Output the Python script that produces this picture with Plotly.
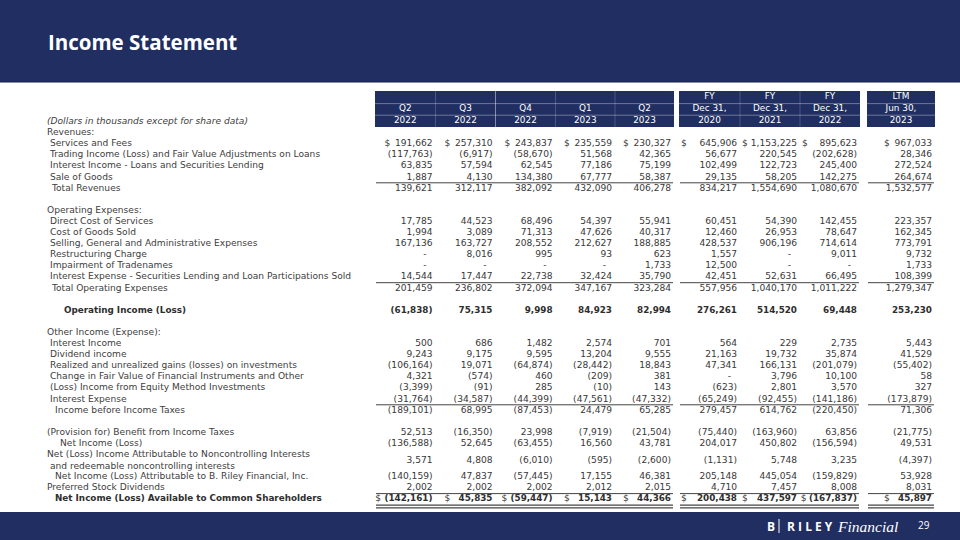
import plotly.graph_objects as go

# ---------------- data ----------------
ROW_LABELS = [
    "(Dollars in thousands except for share data)",
    "Revenues:",
    "Services and Fees",
    "Trading Income (Loss) and Fair Value Adjustments on Loans",
    "Interest Income - Loans and Securities Lending",
    "Sale of Goods",
    "Total Revenues",
    "",
    "Operating Expenses:",
    "Direct Cost of Services",
    "Cost of Goods Sold",
    "Selling, General and Administrative Expenses",
    "Restructuring Charge",
    "Impairment of Tradenames",
    "Interest Expense - Securities Lending and Loan Participations Sold",
    "Total Operating Expenses",
    "",
    "Operating Income (Loss)",
    "",
    "Other Income (Expense):",
    "Interest Income",
    "Dividend income",
    "Realized and unrealized gains (losses) on investments",
    "Change in Fair Value of Financial Instruments and Other",
    "(Loss) Income from Equity Method Investments",
    "Interest Expense",
    "Income before Income Taxes",
    "",
    "(Provision for) Benefit from Income Taxes",
    "Net Income (Loss)",
    "Net (Loss) Income Attributable to Noncontrolling Interests<br> and redeemable noncontrolling interests",
    "Net Income (Loss) Attributable to B. Riley Financial, Inc.",
    "Preferred Stock Dividends",
    "Net Income (Loss) Available to Common Shareholders",
]

HEADER_TOP = ["", "", "", "", "", "FY", "FY", "FY", "LTM"]
HEADER_MID = ["Q2", "Q3", "Q4", "Q1", "Q2", "Dec 31,", "Dec 31,", "Dec 31,", "Jun 30,"]
HEADER_YEAR = ["2022", "2022", "2022", "2023", "2023", "2020", "2021", "2022", "2023"]

# values for the rows that carry numbers (0 shown as "-")
Q2_2022 = [191662, -117763, 63835, 1887, 139621, 17785, 1994, 167136, 0, 0, 14544, 201459,
           -61838, 500, 9243, -106164, 4321, -3399, -31764, -189101, 52513, -136588, 3571,
           -140159, 2002, -142161]
Q3_2022 = [257310, -6917, 57594, 4130, 312117, 44523, 3089, 163727, 8016, 0, 17447, 236802,
           75315, 686, 9175, 19071, -574, -91, -34587, 68995, -16350, 52645, 4808,
           47837, 2002, 45835]
Q4_2022 = [243837, -58670, 62545, 134380, 382092, 68496, 71313, 208552, 995, 0, 22738, 372094,
           9998, 1482, 9595, -64874, 460, 285, -44399, -87453, 23998, -63455, -6010,
           -57445, 2002, -59447]
Q1_2023 = [235559, 51568, 77186, 67777, 432090, 54397, 47626, 212627, 93, 0, 32424, 347167,
           84923, 2574, 13204, -28442, -209, -10, -47561, 24479, -7919, 16560, -595,
           17155, 2012, 15143]
Q2_2023 = [230327, 42365, 75199, 58387, 406278, 55941, 40317, 188885, 623, 1733, 35790, 323284,
           82994, 701, 9555, 18843, 381, 143, -47332, 65285, -21504, 43781, -2600,
           46381, 2015, 44366]
FY_2020 = [645906, 56677, 102499, 29135, 834217, 60451, 12460, 428537, 1557, 12500, 42451, 557956,
           276261, 564, 21163, 47341, 0, -623, -65249, 279457, -75440, 204017, -1131,
           205148, 4710, 200438]
FY_2021 = [1153225, 220545, 122723, 58205, 1554690, 54390, 26953, 906196, 0, 0, 52631, 1040170,
           514520, 229, 19732, 166131, 3796, 2801, -92455, 614762, -163960, 450802, 5748,
           445054, 7457, 437597]
FY_2022 = [895623, -202628, 245400, 142275, 1080670, 142455, 78647, 714614, 9011, 0, 66495, 1011222,
           69448, 2735, 35874, -201079, 10100, 3570, -141186, -220450, 63856, -156594, 3235,
           -159829, 8008, -167837]
LTM_2023 = [967033, 28346, 272524, 264674, 1532577, 223357, 162345, 773791, 9732, 1733, 108399, 1279347,
            253230, 5443, 41529, -55402, 58, 327, -173879, 71306, -21775, 49531, -4397,
            53928, 8031, 45897]

COLUMNS = [Q2_2022, Q3_2022, Q4_2022, Q1_2023, Q2_2023, FY_2020, FY_2021, FY_2022, LTM_2023]

# ---------------- styles / layout ----------------
NAVY = "#202E62"
TXT = "#383838"
LABEL_COL = "#404040"
FONT = "DejaVu Sans"
TITLE_FONT = "Open Sans"
FS = 9.1
BFS = 8.8
HFS = 8.9

ROW_LEVEL = [0, 0, 1, 1, 1, 1, 2, 0, 0, 1, 1, 1, 1, 1, 1, 2, 0, 5, 0, 0, 1, 1, 1, 1, 1, 1, 3,
             0, 0, 4, 0, 3, 0, 3]
LEVEL_X = {0: 47, 1: 50, 2: 52, 3: 55, 4: 60, 5: 64}
STRONG_ROWS = {17, 33}
UNDERLINE_AFTER = {5, 14, 25, 32}
DOUBLE_AFTER = {33}
DOLLAR_ROWS = {2, 33}

BLOCKS = [  # column edges per header block
    [375, 435.5, 495.5, 555.5, 615, 674],
    [679, 740, 800, 860],
    [867, 935],
]
Y0 = 121.8
PITCH = 11.1
HP = 11.6

col_left, col_right, col_block = [], [], []
for b, edges in enumerate(BLOCKS):
    for k in range(len(edges) - 1):
        col_left.append(edges[k])
        col_right.append(edges[k + 1])
        col_block.append(b)

# row y positions (a two-line row takes two slots)
row_y = []
slot = 0
for lab in ROW_LABELS:
    h = 2 if "<br>" in lab else 1
    row_y.append(Y0 + PITCH * (slot + (h - 1) / 2))
    slot += h

value_rows = [i for i, lab in enumerate(ROW_LABELS)
              if lab and not lab.endswith(":") and not lab.startswith("(Dollars")]


def fmt(v):
    if v == 0:
        return "-"
    s = f"{abs(v):,}"
    return f"({s})" if v < 0 else s


def est_width(s, bold):
    # rough DejaVu Sans advance widths (em)
    w = 0.0
    for ch in s:
        if ch.isdigit():
            w += 0.696 if bold else 0.636
        elif ch == ",":
            w += 0.38 if bold else 0.318
        elif ch in "()":
            w += 0.457 if bold else 0.39
        else:
            w += 0.4
    return w * (BFS if bold else FS)


fig = go.Figure()
shapes = []

# banners
shapes.append(dict(type="rect", x0=0, x1=960, y0=0, y1=82, fillcolor=NAVY, line_width=0, layer="below"))
shapes.append(dict(type="line", x0=0, x1=960, y0=82, y1=82, line=dict(color="#16214a", width=1)))
shapes.append(dict(type="rect", x0=0, x1=960, y0=512, y1=540, fillcolor=NAVY, line_width=0, layer="below"))

# header blocks
htop = Y0 - 2 * HP - 7.5
hbot = Y0 + 5.2
for b, edges in enumerate(BLOCKS):
    shapes.append(dict(type="rect", x0=edges[0], x1=edges[-1], y0=htop, y1=hbot,
                       fillcolor=NAVY, line_width=0, layer="below"))
    for yy in (Y0 - 1.5 * HP - 0.8, Y0 - 0.5 * HP - 0.8):
        shapes.append(dict(type="line", x0=edges[0], x1=edges[-1], y0=yy, y1=yy,
                           line=dict(color="rgba(255,255,255,0.35)", width=1)))
    for k, xe in enumerate(edges[1:-1]):
        alpha = 0.45 if (b == 0 and k == 1) else 0.2
        shapes.append(dict(type="line", x0=xe, x1=xe, y0=htop, y1=hbot,
                           line=dict(color=f"rgba(255,255,255,{alpha})", width=1)))

# underlines
for r in UNDERLINE_AFTER | DOUBLE_AFTER:
    ys = [row_y[r] + 5.5]
    if r in DOUBLE_AFTER:
        ys = [row_y[r] + 6.0, row_y[r] + 8.6]
    for edges in BLOCKS:
        for yy in ys:
            shapes.append(dict(type="line", x0=edges[0] + 1, x1=edges[-1] - 1, y0=yy, y1=yy,
                               line=dict(color="#444", width=1.2 if r in DOUBLE_AFTER else 1)))

# header texts
hx = [(l + r) / 2 for l, r in zip(col_left, col_right)]
for labels, yy in ((HEADER_TOP, Y0 - 2 * HP - 1.5), (HEADER_MID, Y0 - HP - 1.2), (HEADER_YEAR, Y0 - 1)):
    fig.add_trace(go.Scatter(x=hx, y=[yy] * len(hx), text=labels, mode="text",
                             textposition="middle center",
                             textfont=dict(family=FONT, size=HFS, color="white"),
                             hoverinfo="skip", showlegend=False))

# row labels (regular and strong in separate traces)
for strong in (False, True):
    lab_x, lab_y, lab_t = [], [], []
    for i, lab in enumerate(ROW_LABELS):
        if not lab or (i in STRONG_ROWS) != strong:
            continue
        t = lab
        if lab.startswith("(Dollars"):
            t = f"<i>{lab}</i>"
        elif strong:
            t = f"<b>{lab}</b>"
        lab_x.append(LEVEL_X[ROW_LEVEL[i]])
        lab_y.append(row_y[i])
        lab_t.append(t)
    fig.add_trace(go.Scatter(x=lab_x, y=lab_y, text=lab_t, mode="text", textposition="middle right",
                             textfont=dict(family=FONT, size=BFS if strong else FS,
                                           color="#2e2e2e" if strong else LABEL_COL),
                             hoverinfo="skip", showlegend=False))

# values
for c, vals in enumerate(COLUMNS):
    groups = {False: ([], [], []), True: ([], [], [])}
    dx, dy = [], []
    for v, r in zip(vals, value_rows):
        s = fmt(v)
        bold = r in STRONG_ROWS
        right = col_right[c] - (9 if v == 0 else 3)
        gx, gy, gt = groups[bold]
        gx.append(right)
        gy.append(row_y[r])
        gt.append(f"<b>{s}</b>" if bold else s)
        if r in DOLLAR_ROWS:
            w = est_width(s, bold)
            b = col_block[c]
            if b == 1:
                dx.append(min(col_left[c] + 2, right - w - 8))
            else:
                dx.append(min(right - 48, right - w - 9))
            dy.append(row_y[r])
    for bold, (gx, gy, gt) in groups.items():
        fig.add_trace(go.Scatter(x=gx, y=gy, text=gt, mode="text", textposition="middle left",
                                 textfont=dict(family=FONT, size=BFS if bold else FS,
                                               color="#2e2e2e" if bold else TXT),
                                 hoverinfo="skip", showlegend=False))
    fig.add_trace(go.Scatter(x=dx, y=dy, text=["$"] * len(dx), mode="text",
                             textposition="middle right",
                             textfont=dict(family=FONT, size=FS, color=TXT),
                             hoverinfo="skip", showlegend=False))

# title and footer
annotations = [
    dict(x=46, y=42, xref="x", yref="y", text="<b>Income Statement</b>", showarrow=False,
         xanchor="left", yanchor="middle", font=dict(family=TITLE_FONT, size=20.5, color="white")),
    dict(x=771, y=526, xref="x", yref="y", text="<b>B</b>", showarrow=False,
         xanchor="center", yanchor="middle", font=dict(family=TITLE_FONT, size=12, color="white")),
    dict(x=785, y=526, xref="x", yref="y", text="<b>R I L E Y</b>", showarrow=False,
         xanchor="left", yanchor="middle", font=dict(family=TITLE_FONT, size=12, color="white")),
    dict(x=835, y=526, xref="x", yref="y", text="<i>Financial</i>", showarrow=False,
         xanchor="left", yanchor="middle",
         font=dict(family="Liberation Serif", size=15.5, color="white")),
    dict(x=924, y=525, xref="x", yref="y", text="29", showarrow=False,
         xanchor="center", yanchor="middle", font=dict(family=TITLE_FONT, size=10, color="white")),
]
shapes.append(dict(type="line", x0=779, x1=779, y0=519, y1=533, line=dict(color="white", width=1)))

fig.update_layout(
    width=960, height=540, autosize=False,
    margin=dict(l=0, r=0, t=0, b=0),
    paper_bgcolor="white", plot_bgcolor="white",
    xaxis=dict(range=[0, 960], visible=False, fixedrange=True),
    yaxis=dict(range=[540, 0], visible=False, fixedrange=True),
    shapes=shapes, annotations=annotations,
    font=dict(family=FONT),
)

fig.write_html("out.html", config={"displayModeBar": False},
               post_script="document.body.style.margin='0';document.body.style.padding='0';"
                           "document.body.style.overflow='hidden';")
